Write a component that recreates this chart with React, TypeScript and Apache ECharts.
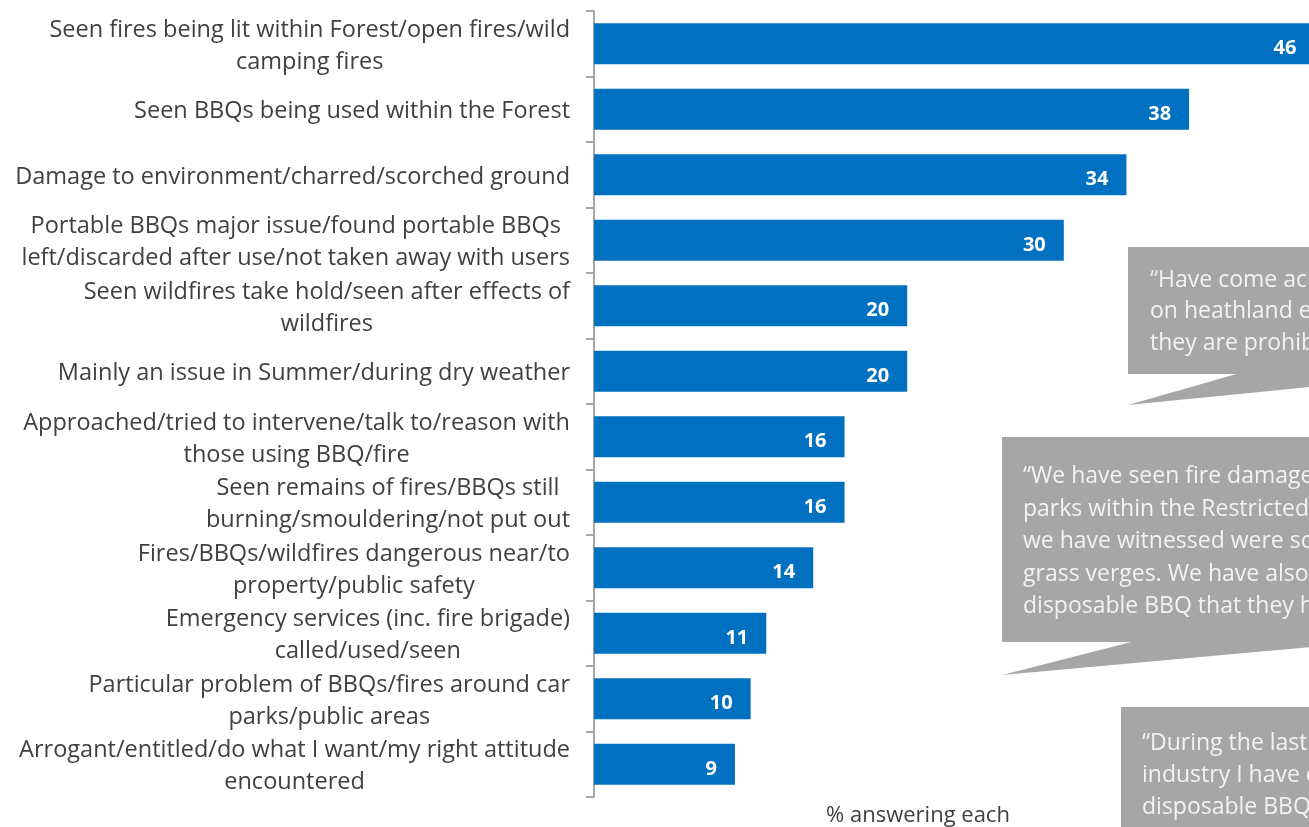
import React, { useEffect, useRef } from 'react';
import * as echarts from 'echarts';

const categories: string[] = [
  'Seen fires being lit within Forest/open fires/wild\ncamping fires',
  'Seen BBQs being used within the Forest',
  'Damage to environment/charred/scorched ground',
  'Portable BBQs major issue/found portable BBQs\nleft/discarded after use/not taken away with users',
  'Seen wildfires take hold/seen after effects of\nwildfires',
  'Mainly an issue in Summer/during dry weather',
  'Approached/tried to intervene/talk to/reason with\nthose using BBQ/fire',
  'Seen remains of fires/BBQs still\nburning/smouldering/not put out',
  'Fires/BBQs/wildfires dangerous near/to\nproperty/public safety',
  'Emergency services (inc. fire brigade)\ncalled/used/seen',
  'Particular problem of BBQs/fires around car\nparks/public areas',
  'Arrogant/entitled/do what I want/my right attitude\nencountered',
];

const values: number[] = [46, 38, 34, 30, 20, 20, 16, 16, 14, 11, 10, 9];

const quote1: string[] = [
  '“Have come acr',
  'on heathland ev',
  'they are prohib',
];
const quote2: string[] = [
  '“We have seen fire damage',
  'parks within the Restricted',
  'we have witnessed were sc',
  'grass verges. We have also',
  'disposable BBQ that they h',
];
const quote3: string[] = [
  '“During the last',
  'industry I have c',
  'disposable BBQs',
];
const axisTitle = '% answering each';

export default function App() {
  const ref = useRef<HTMLDivElement>(null);
  useEffect(() => {
    if (!ref.current) return;
    const chart = echarts.init(ref.current, null, { renderer: 'svg' });
    const font = '"Open Sans", "Noto Sans", sans-serif';
    const boxFill = '#A6A6A6';
    const quoteStyle = { fill: '#F2F2F2', fontSize: 23, fontFamily: font, textAlign: 'left', textVerticalAlign: 'top' };
    chart.setOption({
      animation: false,
      grid: { left: 594, right: 23, top: 11, bottom: 30, containLabel: false },
      xAxis: { type: 'value', min: 0, max: 50, show: false },
      yAxis: {
        type: 'category',
        data: categories,
        inverse: true,
        axisLine: { lineStyle: { color: '#A6A6A6', width: 2 } },
        axisTick: { show: true, length: 8, lineStyle: { color: '#A6A6A6', width: 2 } },
        axisLabel: {
          margin: 24,
          color: '#404040',
          fontSize: 23.5,
          fontFamily: font,
          lineHeight: 32,
          formatter: (v: string) => v.split('\n').map((l) => `{c|${l}}`).join('\n'),
          rich: { c: { align: 'center', fontSize: 23.5, lineHeight: 32, color: '#404040', fontFamily: font } },
        },
      },
      series: [
        {
          type: 'bar',
          data: values,
          barWidth: 41,
          itemStyle: { color: '#0070C0' },
          label: {
            show: true,
            position: 'insideRight',
            distance: 18,
            offset: [0, 3],
            color: '#FFFFFF',
            fontWeight: 'bold',
            fontSize: 20,
            fontFamily: font,
          },
        },
      ],
      graphic: [
        { type: 'rect', shape: { x: 1128, y: 247, width: 300, height: 127 }, style: { fill: boxFill } },
        { type: 'polygon', shape: { points: [[1240, 373], [1128, 405], [1400, 378], [1400, 373]] }, style: { fill: boxFill } },
        { type: 'text', x: 1150, y: 262, style: { ...quoteStyle, text: quote1.join('\n'), lineHeight: 31.5 } },

        { type: 'rect', shape: { x: 1002, y: 437, width: 400, height: 205 }, style: { fill: boxFill } },
        { type: 'polygon', shape: { points: [[1135, 641], [1002, 675], [1400, 639], [1400, 641]] }, style: { fill: boxFill } },
        { type: 'text', x: 1023, y: 458, style: { ...quoteStyle, text: quote2.join('\n'), lineHeight: 32.5 } },

        { type: 'rect', shape: { x: 1121, y: 707, width: 300, height: 150 }, style: { fill: boxFill } },
        { type: 'text', x: 1142, y: 725, style: { ...quoteStyle, text: quote3.join('\n'), lineHeight: 32 } },

        { type: 'text', x: 918, y: 813, style: { text: axisTitle, fill: '#404040', fontSize: 22, fontFamily: font, textAlign: 'center', textVerticalAlign: 'middle' } },
      ],
    });
    return () => chart.dispose();
  }, []);
  return (
    <div style={{ position: 'fixed', left: 0, top: 0, width: 1309, height: 827, overflow: 'hidden' }}>
      <div ref={ref} style={{ width: 1400, height: 827 }} />
    </div>
  );
}
